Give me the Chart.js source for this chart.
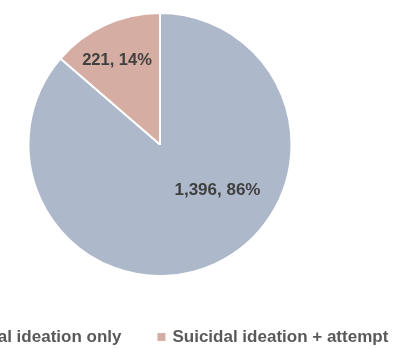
<!DOCTYPE html>
<html>
<head>
<meta charset="utf-8">
<script src="https://cdn.jsdelivr.net/npm/chart.js@4/dist/chart.umd.min.js"></script>
<style>
  html, body { margin: 0; padding: 0; background: #ffffff; overflow: hidden; width: 414px; height: 349px; }
  #wrap { position: absolute; left: -100px; top: 0; width: 520px; height: 349px; }
</style>
</head>
<body>
<div id="wrap"><canvas id="c" width="520" height="349"></canvas></div>
<script>
const categories = ["Suicidal ideation only", "Suicidal ideation + attempt"];
const counts = [1396, 221];
const percents = [86, 14];
const colors = ["#adb9ca", "#d5ada2"];

// label placement style: [angle in degrees from 12 o'clock clockwise, fraction of radius]
const labelPlacement = [[128.7, 0.56], [-27, 0.72]];

const FONT = "'Liberation Sans', Arial, sans-serif";

const sliceLabels = {
  id: 'sliceLabels',
  afterDatasetsDraw(chart) {
    const ctx = chart.ctx;
    const meta = chart.getDatasetMeta(0);
    ctx.save();
    ctx.fillStyle = "#404040";
    ctx.textAlign = "center";
    ctx.textBaseline = "middle";
    meta.data.forEach((arc, i) => {
      ctx.font = "bold " + (i === 0 ? 17 : 16.5) + "px " + FONT;
      const p = labelPlacement[i];
      const a = (p[0] - 90) * Math.PI / 180;
      const r = arc.outerRadius * p[1];
      const x = arc.x + Math.cos(a) * r;
      const y = arc.y + Math.sin(a) * r;
      ctx.fillText(counts[i].toLocaleString('en-US') + ", " + percents[i] + "%", x, y);
    });
    ctx.restore();
  }
};

const bottomLegend = {
  id: 'bottomLegend',
  afterDraw(chart) {
    const ctx = chart.ctx;
    const labels = chart.data.labels;
    const bg = chart.data.datasets[0].backgroundColor;
    ctx.save();
    ctx.font = "bold 17px " + FONT;
    const box = 8, gapBox = 7, gapItem = 36;
    const widths = labels.map(l => ctx.measureText(l).width);
    let total = widths.reduce((s, w) => s + box + gapBox + w, 0) + gapItem * (labels.length - 1);
    const cx = (chart.chartArea.left + chart.chartArea.right) / 2;
    let x = cx - total / 2;
    const y = 337;
    ctx.textBaseline = "middle";
    ctx.textAlign = "left";
    labels.forEach((l, i) => {
      ctx.fillStyle = bg[i];
      ctx.fillRect(x, y - box / 2, box, box);
      x += box + gapBox;
      ctx.fillStyle = "#595959";
      ctx.fillText(l, x, y);
      x += widths[i] + gapItem;
    });
    ctx.restore();
  }
};

new Chart(document.getElementById('c'), {
  type: 'pie',
  data: {
    labels: categories,
    datasets: [{
      data: counts,
      backgroundColor: colors,
      borderColor: "#ffffff",
      borderWidth: 2
    }]
  },
  options: {
    responsive: false,
    animation: false,
    layout: { padding: { top: 12, bottom: 72, left: 0, right: 0 } },
    plugins: {
      legend: { display: false },
      tooltip: { enabled: false }
    }
  },
  plugins: [sliceLabels, bottomLegend]
});
</script>
</body>
</html>
